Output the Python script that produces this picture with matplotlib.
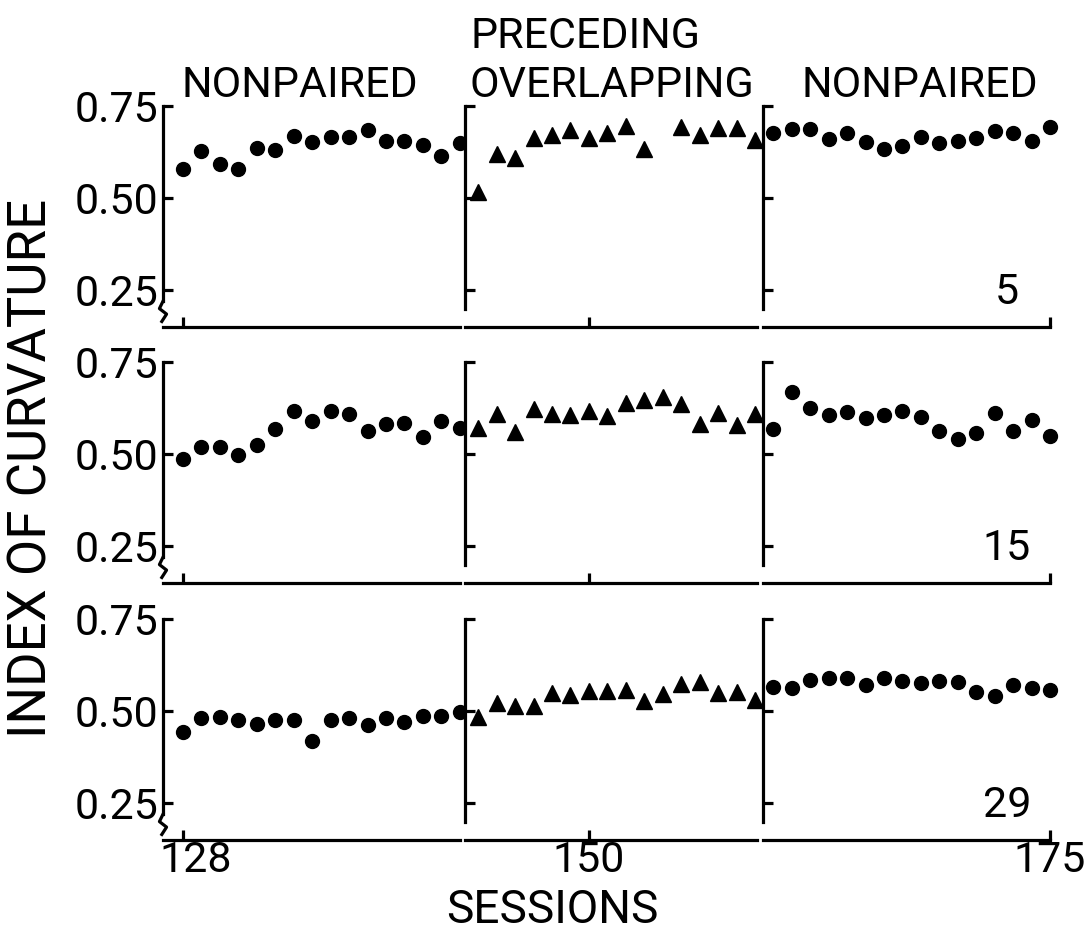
"""
Index of curvature across sessions for three subjects (5, 15, 29),
nonpaired / preceding-overlapping / nonpaired phases.
"""

import matplotlib
matplotlib.use("Agg")
import matplotlib.pyplot as plt
import matplotlib.transforms as mtransforms
import numpy as np

plt.rcParams["font.family"] = ["Liberation Sans Narrow", "Roboto", "DejaVu Sans"]

nan = np.nan

# sessions per phase
sessions_left = list(range(128, 144))
sessions_mid = list(range(144, 160))
sessions_right = list(range(160, 176))

subjects = ["5", "15", "29"]

# subject 5
s5_left = [0.579, 0.628, 0.592, 0.578, 0.635, 0.630, 0.668, 0.653,
           0.667, 0.667, 0.685, 0.655, 0.655, 0.644, 0.615, 0.649]
s5_mid = [0.517, 0.620, 0.610, 0.664, 0.671, 0.685, 0.662, 0.676,
          0.696, 0.632, nan, 0.692, 0.671, 0.689, 0.689, 0.658]
s5_right = [0.678, 0.688, 0.688, 0.660, 0.678, 0.653, 0.632, 0.642,
            0.665, 0.649, 0.656, 0.662, 0.683, 0.676, 0.656, 0.692]

# subject 15
s15_left = [0.486, 0.518, 0.518, 0.497, 0.524, 0.568, 0.618, 0.591,
            0.618, 0.609, 0.562, 0.582, 0.584, 0.546, 0.591, 0.570]
s15_mid = [0.572, 0.609, 0.561, 0.622, 0.609, 0.606, 0.618, 0.604,
           0.640, 0.647, 0.654, 0.636, 0.582, 0.611, 0.579, 0.609]
s15_right = [0.568, 0.668, 0.625, 0.606, 0.615, 0.597, 0.606, 0.618,
             0.600, 0.563, 0.541, 0.557, 0.611, 0.563, 0.592, 0.550]

# subject 29
s29_left = [0.443, 0.482, 0.484, 0.475, 0.466, 0.477, 0.475, 0.418,
            0.477, 0.482, 0.462, 0.482, 0.471, 0.486, 0.488, 0.498]
s29_mid = [0.484, 0.523, 0.514, 0.514, 0.550, 0.544, 0.555, 0.555,
           0.557, 0.527, 0.546, 0.573, 0.580, 0.550, 0.553, 0.529]
s29_right = [0.566, 0.564, 0.584, 0.591, 0.589, 0.571, 0.589, 0.582,
             0.575, 0.582, 0.580, 0.553, 0.541, 0.570, 0.564, 0.557]

rows = [
    (s5_left, s5_mid, s5_right),
    (s15_left, s15_mid, s15_right),
    (s29_left, s29_mid, s29_right),
]
session_sets = [sessions_left, sessions_mid, sessions_right]
markers = ["o", "^", "o"]

W, H = 1092, 935
fig = plt.figure(figsize=(W / 100, H / 100), dpi=100)

# layout in pixels
PX_128, PX_PER_SESSION = 183, 18.45
col_px = [(163, 460), (465, 757), (763, 1050)]
row_top_px = [106, 362, 619]
ROW_H = 221
YLIM = (0.15, 0.75)
LW = 2.3
FS = 31


def px_to_session(px):
    return 128 + (px - PX_128) / PX_PER_SESSION


for r, (vals_row, top) in enumerate(zip(rows, row_top_px)):
    for c, (vals, sess, mk, (x0, x1)) in enumerate(
            zip(vals_row, session_sets, markers, col_px)):
        ax = fig.add_axes([x0 / W, 1 - (top + ROW_H) / H, (x1 - x0) / W, ROW_H / H])
        ax.plot(sess, vals, linestyle="none", marker=mk, color="black",
                markersize=11 if mk == "^" else 10, clip_on=False)
        ax.set_xlim(px_to_session(x0), 175.0 if c == 2 else px_to_session(x1))
        ax.set_ylim(*YLIM)
        for side in ("top", "right"):
            ax.spines[side].set_visible(False)
        ax.spines["left"].set_linewidth(LW)
        ax.spines["bottom"].set_linewidth(LW)
        ax.spines["left"].set_bounds(0.22 if c == 0 else 0.2, 0.75)
        ax.set_yticks([0.25, 0.5, 0.75])
        lo, hi = ax.get_xlim()
        ax.set_xticks([t for t in (128, 150, 175) if lo <= t <= hi])
        ax.tick_params(direction="in", length=7, width=LW, labelsize=FS, pad=3)
        ax.tick_params(axis="x", pad=0)
        if c == 0:
            ax.set_yticklabels(["0.25", "0.50", "0.75"])
            # axis break marks on the left spine
            ax.plot([0.0, -0.012, 0.012, -0.004], [0.22, 0.2, 0.185, 0.165],
                    transform=ax.get_yaxis_transform(), color="black",
                    lw=LW, clip_on=False)
        else:
            ax.set_yticklabels([])
        if r == 2:
            ax.set_xticklabels([str(t) for t in ax.get_xticks().astype(int)])
            if c == 0:
                lab = ax.get_xticklabels()[0]
                lab.set_transform(lab.get_transform() + mtransforms.ScaledTranslation(
                    0.13, 0, fig.dpi_scale_trans))
        else:
            ax.set_xticklabels([])
        if c == 2:
            ax.text(0.85, 0.155, subjects[r], transform=ax.transAxes,
                    fontsize=FS, ha="center", va="center")

# phase headings
fig.text(300 / W, 1 - 97 / H, "NONPAIRED", fontsize=FS, ha="center", va="baseline")
fig.text(470 / W, 1 - 97 / H, "PRECEDING\nOVERLAPPING", fontsize=FS,
         ha="left", va="baseline", linespacing=1.25)
fig.text(920 / W, 1 - 97 / H, "NONPAIRED", fontsize=FS, ha="center", va="baseline")

fig.text(32 / W, 1 - 468 / H, "INDEX OF CURVATURE", rotation=90,
         fontsize=38, ha="center", va="center")
fig.text(552 / W, 1 - 910 / H, "SESSIONS", fontsize=33, ha="center", va="center")

fig.savefig("out.png", dpi=100)
